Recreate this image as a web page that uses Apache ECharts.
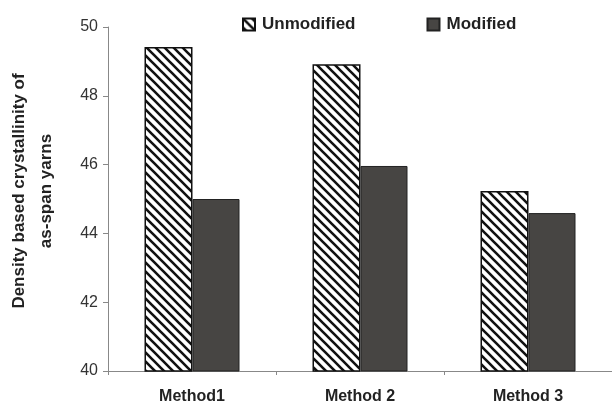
<!DOCTYPE html>
<html><head><meta charset="utf-8">
<script src="https://cdn.jsdelivr.net/npm/echarts@6/dist/echarts.min.js"></script>
<style>html,body{margin:0;padding:0;background:#fff}#c{width:612px;height:405px}</style>
</head><body><div id="c"></div>
<script>
const categories = ['Method1', 'Method 2', 'Method 3'];
const unmodified = [49.42, 48.92, 45.23];
const modified = [45.0, 45.96, 44.59];
const yTicks = [40, 42, 44, 46, 48, 50];

function hatch() {
  const s = 9;
  const c = document.createElement('canvas');
  c.width = s; c.height = s;
  const g = c.getContext('2d');
  g.fillStyle = '#fff'; g.fillRect(0, 0, s, s);
  g.strokeStyle = '#111'; g.lineWidth = 2.6;
  g.beginPath();
  g.moveTo(-2, -2); g.lineTo(s + 2, s + 2);
  g.moveTo(-2, s - 2); g.lineTo(2, s + 2);
  g.moveTo(s - 2, -2); g.lineTo(s + 2, 2);
  g.stroke();
  return c;
}

const chart = echarts.init(document.getElementById('c'));
chart.setOption({
  animation: false,
  textStyle: { fontFamily: 'Liberation Sans, Arial, sans-serif' },
  legend: {
    top: 11, left: 237, itemGap: 71, itemWidth: 12, itemHeight: 12, icon: 'rect',
    textStyle: { fontWeight: 'bold', fontSize: 17, color: '#222', padding: [0, 0, 0, 2] },
    data: ['Unmodified', 'Modified']
  },
  grid: { left: 108, right: 0, top: 27, bottom: 34, outerBoundsMode: 'none', containLabel: false },
  xAxis: {
    type: 'category', data: categories,
    axisLine: { lineStyle: { color: '#888', width: 1 } },
    axisTick: { show: true, length: 4, lineStyle: { color: '#888' } },
    axisLabel: { fontWeight: 'bold', fontSize: 16, color: '#222', margin: 18 }
  },
  yAxis: {
    type: 'value', min: 40, max: 50, interval: 2,
    name: 'Density based crystallinity of\nas-span yarns',
    nameLocation: 'middle', nameRotate: 90, nameGap: 48,
    nameTextStyle: { fontWeight: 'bold', fontSize: 17, color: '#222', lineHeight: 27, align: 'center', padding: [0, 0, 0, 16] },
    splitLine: { show: false },
    axisLine: { show: true, lineStyle: { color: '#888' } },
    axisTick: { show: true, length: 5, lineStyle: { color: '#888' } },
    axisLabel: { fontSize: 16, color: '#333', margin: 10,
      formatter: v => yTicks.includes(v) ? String(v) : '' }
  },
  series: [
    { name: 'Unmodified', type: 'bar', data: unmodified, barWidth: 48, barGap: '0%',
      itemStyle: { color: { image: hatch(), repeat: 'repeat' }, borderColor: '#111', borderWidth: 1.5 } },
    { name: 'Modified', type: 'bar', data: modified, barWidth: 47,
      itemStyle: { color: '#474543', borderColor: '#222', borderWidth: 1 } }
  ]
});
</script></body></html>
